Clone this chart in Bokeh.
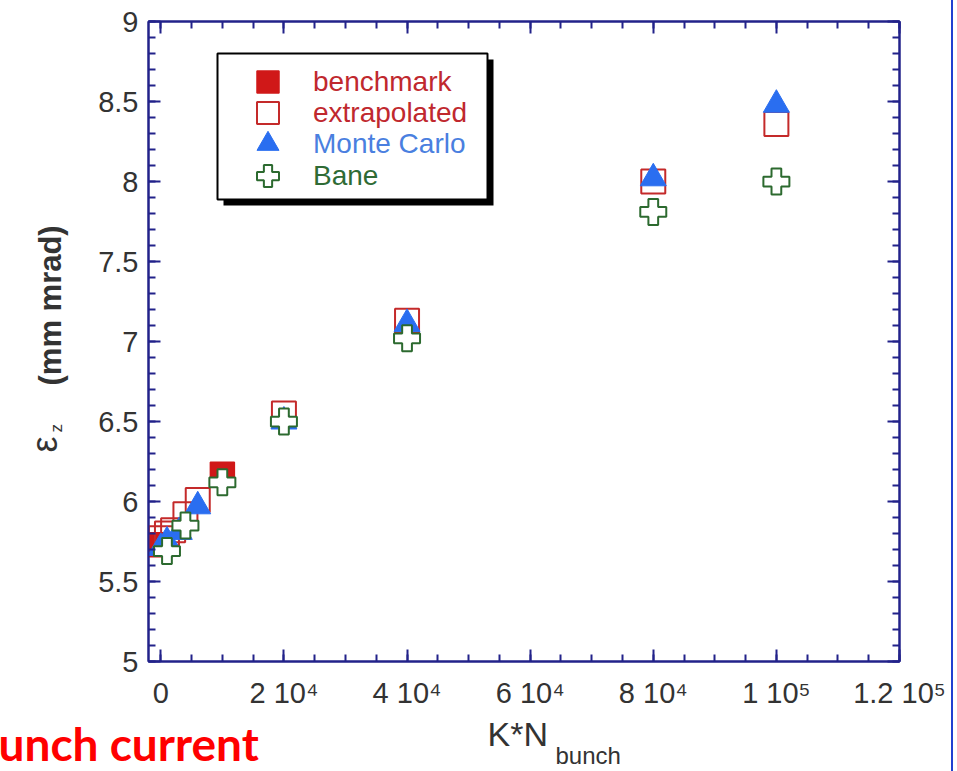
from bokeh.plotting import figure
from bokeh.models import (Range1d, LinearAxis, FixedTicker, Legend, LegendItem,
                          Title, BoxAnnotation, Grid, CustomLabelingPolicy)
from bokeh.embed import file_html
from bokeh.resources import INLINE

# ---------------- data ----------------
bench_x = [0, 10000]
bench_y = [5.73, 6.17]

extrap_x = [0, 1000, 2000, 4000, 6000, 20000, 40000, 80000, 100000]
extrap_y = [5.77, 5.80, 5.82, 5.92, 6.01, 6.55, 7.13, 8.00, 8.36]

mc_x = [0, 1000, 3000, 6000, 20000, 40000, 80000, 100000]
mc_y = [5.71, 5.75, 5.81, 5.97, 6.50, 7.11, 8.02, 8.48]

bane_x = [1000, 4000, 10000, 20000, 40000, 80000, 100000]
bane_y = [5.69, 5.85, 6.12, 6.50, 7.02, 7.81, 8.00]

x_ticks = [0, 20000, 40000, 60000, 80000, 100000, 120000]
x_tick_labels = ["0", "2 10\u2074", "4 10\u2074", "6 10\u2074", "8 10\u2074",
                 "1 10\u2075", "1.2 10\u2075"]
y_ticks = [5, 5.5, 6, 6.5, 7, 7.5, 8, 8.5, 9]
y_tick_labels = ["5", "5.5", "6", "6.5", "7", "7.5", "8", "8.5", "9"]

series_names = ["benchmark", "extrapolated", "Monte Carlo", "Bane"]

# ---------------- style ----------------
NAVY = "#22228a"
RED = "#d01818"
RED_LINE = "#c42a2a"
BLUE = "#2a6ef0"
GREEN = "#2c6a2f"
TXT = "#333333"
FONT = "Liberation Sans"

p = figure(width=951, height=771, output_backend="svg", toolbar_location=None,
           x_range=Range1d(-2000, 120000), y_range=Range1d(5, 9),
           x_axis_location=None, y_axis_location=None,
           min_border_left=148, min_border_right=52,
           min_border_top=21, min_border_bottom=110)
p.center = [c for c in p.center if not isinstance(c, Grid)]
p.background_fill_color = "white"
p.border_fill_color = "white"
p.outline_line_color = NAVY
p.outline_line_width = 2
p.styles = {"box-shadow": "2px 0 0 0 #2040d0"}

x_minor = [i * 5000 for i in range(0, 25)]
y_minor = [round(5 + i * 0.1, 2) for i in range(0, 41)]


def make_axis(ticks, minor, labels, show, standoff=10):
    ax = LinearAxis(ticker=FixedTicker(ticks=ticks, minor_ticks=minor))
    ax.axis_line_color = NAVY
    ax.axis_line_width = 2
    ax.major_tick_line_color = NAVY
    ax.major_tick_line_width = 2
    ax.major_tick_in = 12
    ax.major_tick_out = 0
    ax.minor_tick_line_color = NAVY
    ax.minor_tick_line_width = 2
    ax.minor_tick_in = 7
    ax.minor_tick_out = 0
    if show:
        ax.major_label_overrides = {t: l for t, l in zip(ticks, labels)}
        ax.major_label_text_font = FONT
        ax.major_label_text_font_size = "29px"
        ax.major_label_text_color = TXT
        ax.major_label_standoff = standoff
    else:
        # mirrored axis: ticks only, no labels
        ax.major_label_policy = CustomLabelingPolicy(code="return []")
        ax.major_label_text_font_size = "0px"
        ax.major_label_standoff = 0
    return ax


xaxis = make_axis(x_ticks, x_minor, x_tick_labels, True, standoff=15)
yaxis = make_axis(y_ticks, y_minor, y_tick_labels, True, standoff=10)
p.add_layout(xaxis, "below")
p.add_layout(yaxis, "left")
p.add_layout(make_axis(x_ticks, x_minor, x_tick_labels, False), "above")
p.add_layout(make_axis(y_ticks, y_minor, y_tick_labels, False), "right")

# ---------------- marks ----------------
r_bench = p.scatter(bench_x, bench_y, marker="square", size=24,
                    fill_color=RED, line_color=RED, line_width=1.5)
r_ext = p.scatter(extrap_x, extrap_y, marker="square", size=24,
                  fill_color=None, line_color=RED_LINE, line_width=2)
r_mc = p.scatter(mc_x, mc_y, marker="triangle", size=26,
                 fill_color=BLUE, line_color=BLUE, line_width=1)
r_bane = p.scatter(bane_x, bane_y, marker="plus", size=26,
                   fill_color="white", line_color=GREEN, line_width=2)

# ---------------- legend box with shadow ----------------
shadow = BoxAnnotation(left=75, right=345, top=602, bottom=456,
                       left_units="screen", right_units="screen",
                       top_units="screen", bottom_units="screen",
                       fill_color="black", fill_alpha=1, line_color=None)
box = BoxAnnotation(left=69, right=339, top=608, bottom=462,
                    left_units="screen", right_units="screen",
                    top_units="screen", bottom_units="screen",
                    fill_color="white", fill_alpha=1,
                    line_color="black", line_width=2, line_alpha=1)
p.add_layout(shadow)
p.add_layout(box)

legend_colors = ["#c0282e", "#c0282e", "#4a7fe0", "#2f6b35"]
renderers = [r_bench, r_ext, r_mc, r_bane]
row_vy = [552, 521, 490, 458]
for name, col, r, vy in zip(series_names, legend_colors, renderers, row_vy):
    lg = Legend(items=[LegendItem(label=name, renderers=[r])],
                location=(92, vy), orientation="vertical")
    lg.background_fill_alpha = 0
    lg.border_line_color = None
    lg.padding = 0
    lg.margin = 0
    lg.spacing = 0
    lg.glyph_width = 55
    lg.glyph_height = 55
    lg.label_standoff = 18
    lg.label_text_font = FONT
    lg.label_text_font_size = "28px"
    lg.label_text_color = col
    p.add_layout(lg, "center")


# ---------------- texts outside the frame (titles in side panels) ----------
def title(text, size, offset, standoff, color=TXT, font=FONT, style="normal"):
    t = Title(text=text, align="left", vertical_align="top",
              offset=offset, standoff=standoff)
    t.text_font = font
    t.text_font_size = size
    t.text_font_style = style
    t.text_color = color
    t.background_fill_color = None
    t.border_line_color = None
    return t


# below: x-axis title K*N with subscript, and a slide fragment
p.add_layout(title("K*N", "34px", 339, 7), "below")
p.add_layout(title("unch current", "46px", -150, -86, color="#ff0000",
                   font="Lato", style="bold"), "below")
p.add_layout(title("bunch", "24px", 407, -33), "below")


# left: y-axis title  eps_z (mm mrad)
def ltitle(text, size, offset, standoff, style="normal"):
    t = Title(text=text, align="left", vertical_align="bottom",
              offset=offset, standoff=standoff)
    t.text_font = FONT
    t.text_font_size = size
    t.text_font_style = style
    t.text_color = TXT
    t.background_fill_color = None
    t.border_line_color = None
    return t


p.add_layout(ltitle("z", "17px", 229, 60), "left")
p.add_layout(ltitle("\u03b5", "36px", 209, -100), "left")
p.add_layout(ltitle("(mm mrad)", "31px", 276, -106, style="bold"), "left")

open("out.html", "w").write(file_html(p, INLINE))
